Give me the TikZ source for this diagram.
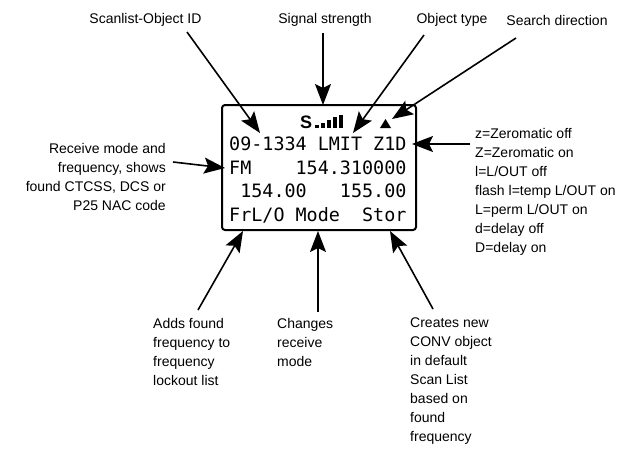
\documentclass[tikz,border=0pt]{standalone}
\usepackage{fontspec}
\setmainfont{Liberation Sans}
\newfontfamily\lcdfont{DejaVu Sans Mono}
\usetikzlibrary{arrows.meta}
\newcommand\lsp{\hphantom{0}}
\begin{document}
\begin{tikzpicture}[x=1pt,y=-1pt,
  lbl/.style={font=\fontsize{14}{19}\selectfont, inner sep=0pt, align=left},
  lcdrow/.style={font=\lcdfont\fontsize{18.4}{20}\selectfont, inner sep=0pt, anchor=base west},
  ptr/.style={line width=1.6pt, -{Stealth[length=21pt,width=16pt,inset=4pt]}},
  screen/.style={draw, line width=2pt, rounded corners=3pt, inner sep=0pt}
]
\useasboundingbox (0,0) rectangle (629,448);
\fill[white] (0,0) rectangle (629,448);

% LCD screen
\node[screen, minimum width=194pt, minimum height=125pt] (lcd) at (319,167.5) {};
\node[font=\bfseries\fontsize{18}{18}\selectfont, inner sep=0pt, anchor=base] (sig) at (306,128) {S};
\fill (315,128) rectangle ++(4,-3);
\fill (321,128) rectangle ++(4,-5);
\fill (327,128) rectangle ++(4,-8);
\fill (333,128) rectangle ++(4,-11);
\fill (339,128) rectangle ++(4,-13);
\fill (380,128) -- (391,128) -- (385.5,119) -- cycle;
\node[lcdrow] (r2) at (229,150.7) {09-1334\lsp LMIT\lsp Z1D};
\node[lcdrow] (r3) at (229,174.2) {FM\lsp\lsp\lsp\lsp154.310000};
\node[lcdrow] (r4) at (229,197.7) {\lsp154.00\lsp\lsp\lsp155.00};
\node[lcdrow] (r5) at (229,221.2) {FrL/O\lsp Mode\lsp\lsp Stor};

% labels
\node[lbl] (lscan) at (145.5,20) {Scanlist-Object ID};
\node[lbl] (lsig) at (325,20) {Signal strength};
\node[lbl] (ltype) at (452,20) {Object type};
\node[lbl] (ldir) at (557,20) {Search direction};
\node[lbl, align=right, anchor=north east] (lrx) at (166,143) {Receive mode and\\frequency, shows\\found CTCSS, DCS or\\P25 NAC code};
\node[lbl, anchor=north west] (lflags) at (475,128) {z=Zeromatic off\\Z=Zeromatic on\\l=L/OUT off\\flash l=temp L/OUT on\\L=perm L/OUT on\\d=delay off\\D=delay on};
\node[lbl, anchor=north west] (ladd) at (153,318) {Adds found\\frequency to\\frequency\\lockout list};
\node[lbl, anchor=north west] (lmode) at (277,318) {Changes\\receive\\mode};
\node[lbl, anchor=north west] (lstor) at (410,318) {Creates new\\CONV object\\in default\\Scan List\\based on\\found\\frequency};

% arrow end points
\coordinate (tscan) at (187,32);  \coordinate (hscan) at (260,133);
\coordinate (tsig) at (323,33);   \coordinate (hsig) at (323,105);
\coordinate (ttype) at (424,35);  \coordinate (htype) at (353,133);
\coordinate (tdir) at (516,38);   \coordinate (hdir) at (392,119);
\coordinate (tflags) at (470,144); \coordinate (hflags) at (412,144);
\coordinate (trx) at (173,162);   \coordinate (hrx) at (225,168);
\coordinate (tadd) at (198,310);  \coordinate (hadd) at (243,231);
\coordinate (tmode) at (318,312); \coordinate (hmode) at (318,231);
\coordinate (tstor) at (433,309); \coordinate (hstor) at (390,231);

\draw[ptr] (tscan) -- (hscan);
\draw[ptr] (tsig) -- (hsig);
\draw[ptr] (ttype) -- (htype);
\draw[ptr] (tdir) -- (hdir);
\draw[ptr] (tflags) -- (hflags);
\draw[ptr] (trx) -- (hrx);
\draw[ptr] (tadd) -- (hadd);
\draw[ptr] (tmode) -- (hmode);
\draw[ptr] (tstor) -- (hstor);
\end{tikzpicture}
\end{document}
